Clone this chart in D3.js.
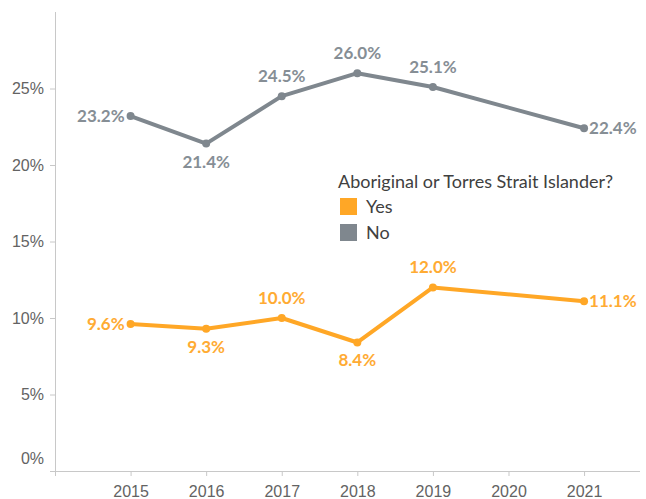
<!DOCTYPE html>
<html>
<head>
<meta charset="utf-8">
<style>
body { margin: 0; background: #fff; }
svg { display: block; font-family: Lato, "Open Sans", sans-serif; }
.axis path, .axis line { stroke: #c8c8c8; }
.axis text { fill: #636363; font-size: 16px; }
</style>
</head>
<body>
<svg width="646" height="499"></svg>
<script src="https://d3js.org/d3.v7.min.js"></script>
<script>

// data
var years = [2015, 2016, 2017, 2018, 2019, 2021];
var yesValues = [9.6, 9.3, 10.0, 8.4, 12.0, 11.1];
var noValues = [23.2, 21.4, 24.5, 26.0, 25.1, 22.4];
var yTicks = [0, 5, 10, 15, 20, 25];
var xTicks = [2014, 2015, 2016, 2017, 2018, 2019, 2020, 2021];
var seriesNames = ["Yes", "No"];
var legendTitle = "Aboriginal or Torres Strait Islander?";

// where each value label sits relative to its point
var yesLabelPos = ["left", "below", "above", "below", "above", "right"];
var noLabelPos = ["left", "below", "above", "above", "above", "right"];

var colors = { Yes: "#ffa726", No: "#7f878e" };
var labelColors = { Yes: "#ffab33", No: "#868e95" };

var svg = d3.select("svg");

var x = d3.scaleLinear().domain([2014, 2021.74]).range([55, 640]);
var y = d3.scaleLinear().domain([0, 30]).range([471, 12]);

// axes
var xAxis = d3.axisBottom(x)
    .tickValues(xTicks)
    .tickSize(5)
    .tickFormat(function(d) { return d === 2014 ? "" : d; });
svg.append("g")
    .attr("class", "axis")
    .attr("transform", "translate(0,471)")
    .call(xAxis)
    .call(function(g) {
        g.select(".domain").attr("d", "M55,0.5H640");
        g.selectAll("text").attr("dy", null).attr("y", 26);
    });

var yAxis = d3.axisLeft(y)
    .tickValues(yTicks)
    .tickSize(5)
    .tickPadding(6)
    .tickFormat(function(d) { return d + "%"; });
svg.append("g")
    .attr("class", "axis")
    .attr("transform", "translate(55,0)")
    .call(yAxis)
    .call(function(g) {
        g.select(".domain").attr("d", "M0.5,12V471");
        g.selectAll(".tick text").filter(function(d) { return d === 0; }).attr("dy", "-0.5em");
    });

var line = d3.line()
    .x(function(d) { return x(d.year); })
    .y(function(d) { return y(d.value); });

function drawSeries(name, values, positions) {
    var pts = years.map(function(yr, i) { return { year: yr, value: values[i], pos: positions[i] }; });
    var g = svg.append("g");
    g.append("path")
        .attr("d", line(pts))
        .attr("fill", "none")
        .attr("stroke", colors[name])
        .attr("stroke-width", 4)
        .attr("stroke-linejoin", "round");
    g.selectAll("circle")
        .data(pts)
        .enter().append("circle")
        .attr("cx", function(d) { return x(d.year); })
        .attr("cy", function(d) { return y(d.value); })
        .attr("r", 4)
        .attr("fill", colors[name]);
    g.selectAll("text")
        .data(pts)
        .enter().append("text")
        .attr("x", function(d) {
            var px = x(d.year);
            if (d.pos === "left") return px - 6;
            if (d.pos === "right") return px + 5;
            return px;
        })
        .attr("y", function(d) {
            var py = y(d.value);
            if (d.pos === "above") return py - 14;
            if (d.pos === "below") return py + 24;
            return py + 6;
        })
        .attr("text-anchor", function(d) {
            return d.pos === "left" ? "end" : d.pos === "right" ? "start" : "middle";
        })
        .attr("fill", labelColors[name])
        .attr("font-size", 17)
        .attr("font-weight", "bold")
        .text(function(d) { return d.value.toFixed(1) + "%"; });
}

drawSeries("No", noValues, noLabelPos);
drawSeries("Yes", yesValues, yesLabelPos);

// legend
var legend = svg.append("g").attr("transform", "translate(338,188)");
legend.append("text")
    .attr("fill", "#404040")
    .attr("font-size", 18)
    .text(legendTitle);
var items = legend.selectAll(".item")
    .data(seriesNames)
    .enter().append("g")
    .attr("transform", function(d, i) { return "translate(2," + (10 + i * 26) + ")"; });
items.append("rect")
    .attr("width", 17)
    .attr("height", 17)
    .attr("fill", function(d) { return colors[d]; });
items.append("text")
    .attr("x", 26)
    .attr("y", 15)
    .attr("fill", "#404040")
    .attr("font-size", 18)
    .text(function(d) { return d; });
</script>
</body>
</html>
